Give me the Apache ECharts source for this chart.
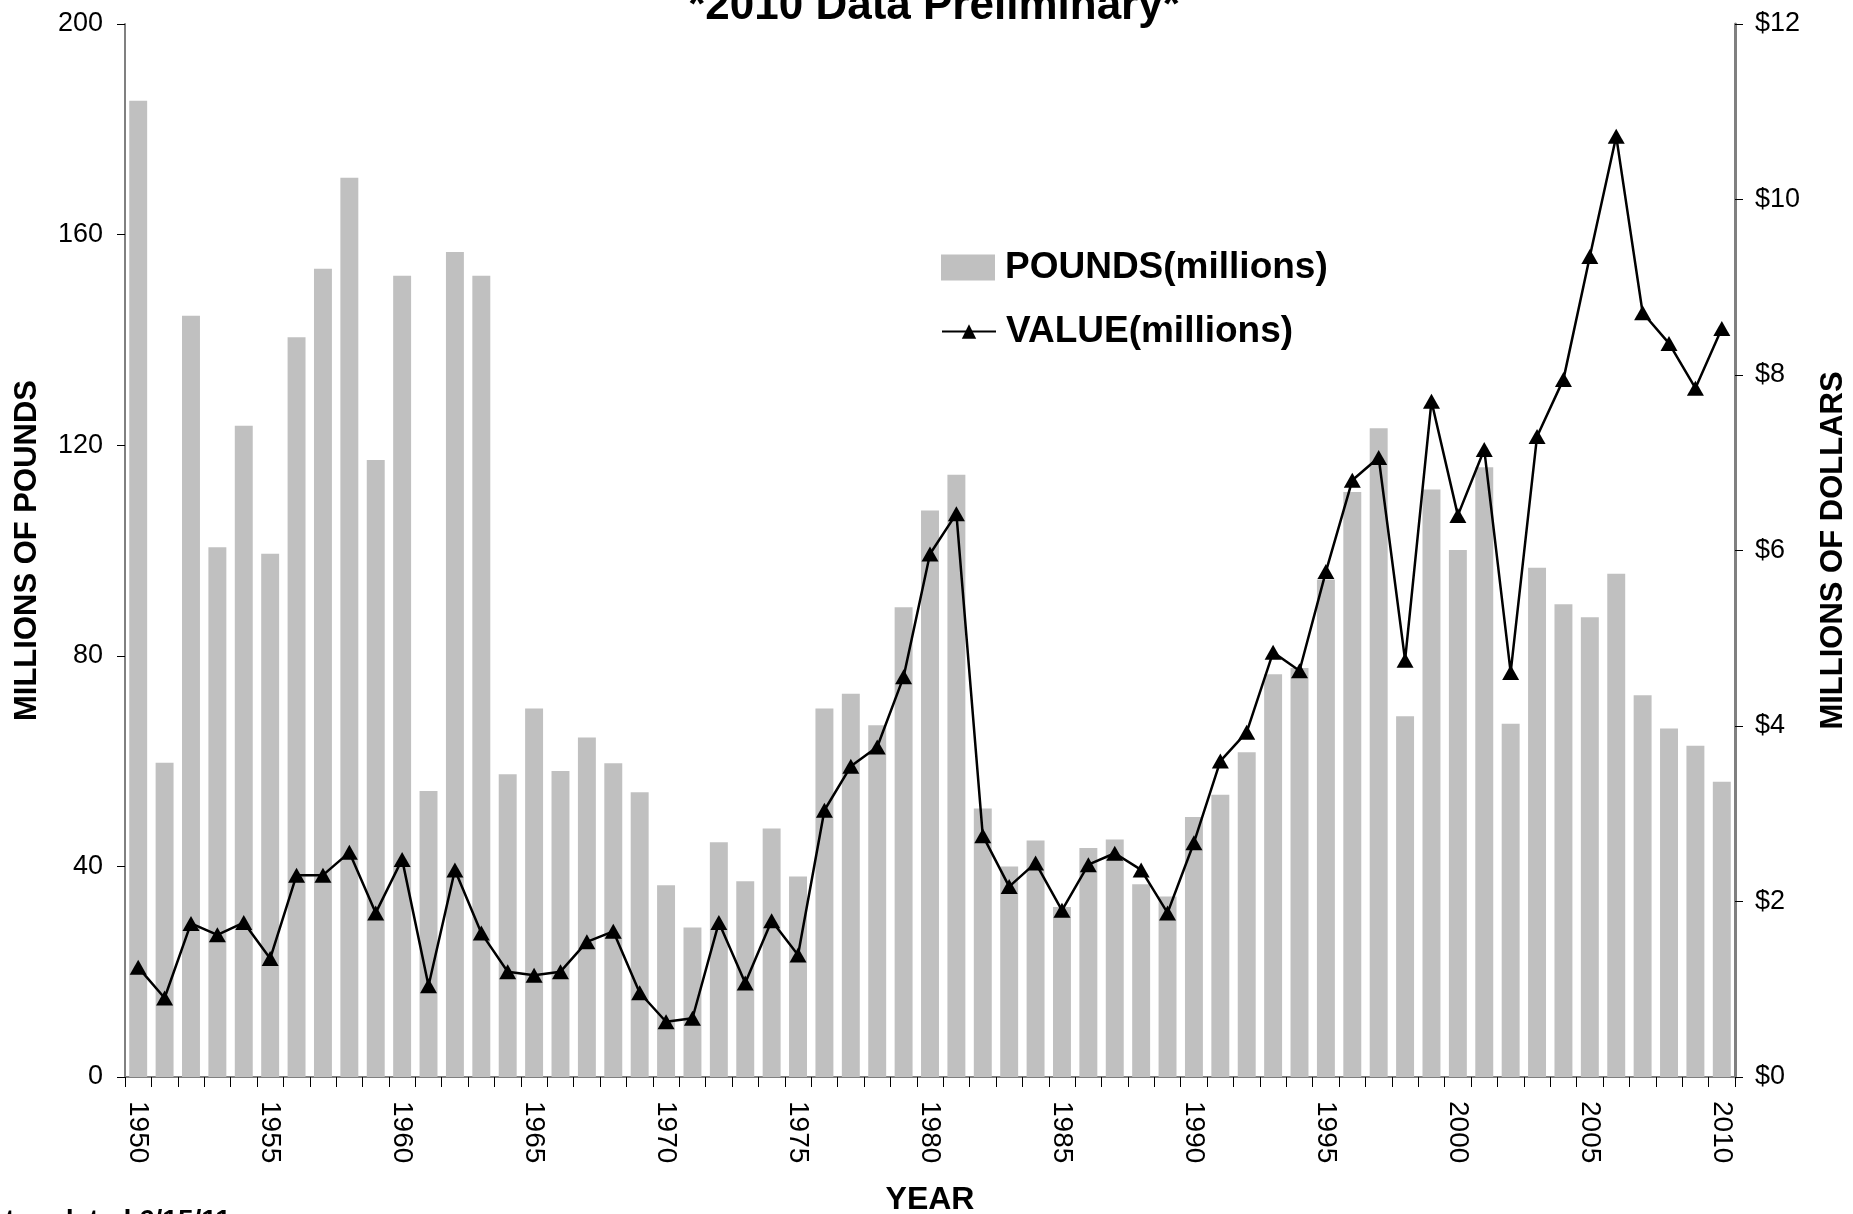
<!DOCTYPE html>
<html>
<head>
<meta charset="utf-8">
<script src="https://cdn.jsdelivr.net/npm/echarts@6/dist/echarts.min.js"></script>
<style>
html,body{margin:0;padding:0;background:#fff;}
#chart{width:1853px;height:1214px;}
</style>
</head>
<body>
<div id="chart"></div>
<script>
var years = [];
for (var y = 1950; y <= 2010; y++) years.push(String(y));

var pounds = [185.4, 59.7, 144.6, 100.6, 123.7, 99.4, 140.5, 153.5, 170.8, 117.2,
  152.2, 54.3, 156.7, 152.2, 57.5, 70.0, 58.1, 64.5, 59.6, 54.1,
  36.4, 28.4, 44.6, 37.2, 47.2, 38.1, 70.0, 72.8, 66.8, 89.2,
  107.6, 114.4, 51.0, 40.0, 44.9, 32.3, 43.5, 45.1, 36.6, 34.3,
  49.4, 53.6, 61.7, 76.5, 77.7, 94.5, 111.1, 123.2, 68.5, 111.6,
  100.1, 115.8, 67.1, 96.7, 89.8, 87.3, 95.6, 72.5, 66.2, 62.9,
  56.1];

var valueM = [1.25, 0.90, 1.75, 1.62, 1.76, 1.35, 2.30, 2.30, 2.56, 1.87,
  2.48, 1.04, 2.36, 1.64, 1.20, 1.16, 1.20, 1.54, 1.66, 0.96,
  0.63, 0.67, 1.76, 1.07, 1.78, 1.39, 3.04, 3.54, 3.76, 4.56,
  5.96, 6.42, 2.75, 2.17, 2.44, 1.90, 2.42, 2.55, 2.36, 1.87,
  2.67, 3.60, 3.93, 4.84, 4.63, 5.76, 6.80, 7.06, 4.75, 7.70,
  6.40, 7.15, 4.61, 7.30, 7.95, 9.35, 10.72, 8.71, 8.36, 7.85,
  8.53];

var FONT = "'Liberation Sans', Arial, sans-serif";
var chart = echarts.init(document.getElementById('chart'));

chart.setOption({
  backgroundColor: '#ffffff',
  animation: false,
  textStyle: {fontFamily: FONT},
  grid: {left: 125, right: 118, top: 24, bottom: 137, containLabel: false, outerBoundsMode: 'none'},
  legend: [
    {
      data: [{name: 'POUNDS(millions)', icon: 'rect'}],
      orient: 'vertical', left: 941, top: 249, padding: 0,
      itemWidth: 54, itemHeight: 26,
      textStyle: {fontFamily: FONT, fontSize: 37, fontWeight: 'bold', color: '#000', padding: [0,0,0,5]}
    },
    {
      data: ['VALUE(millions)'],
      orient: 'vertical', left: 941, top: 313, padding: 0,
      itemWidth: 54, itemHeight: 18,
      textStyle: {fontFamily: FONT, fontSize: 37, fontWeight: 'bold', color: '#000', padding: [0,0,0,5]}
    }
  ],
  xAxis: {
    type: 'category',
    data: years,
    boundaryGap: true,
    name: 'YEAR',
    nameLocation: 'middle',
    nameGap: 107,
    nameTextStyle: {fontFamily: FONT, fontSize: 32, fontWeight: 'bold', color: '#000', verticalAlign: 'top'},
    axisLine: {lineStyle: {color: '#808080', width: 2}},
    axisTick: {show: true, interval: 0, length: 10, lineStyle: {color: '#000', width: 1}},
    axisLabel: {interval: 4, rotate: -90, margin: 24, fontSize: 28, color: '#000', fontFamily: FONT}
  },
  yAxis: [
    {
      type: 'value', min: 0, max: 200, interval: 40,
      name: 'MILLIONS OF POUNDS',
      nameLocation: 'middle', nameGap: 82,
      nameTextStyle: {fontFamily: FONT, fontSize: 31, fontWeight: 'bold', color: '#000'},
      axisLine: {show: true, lineStyle: {color: '#808080', width: 2}},
      axisTick: {show: true, length: 8, lineStyle: {color: '#000', width: 1}},
      axisLabel: {margin: 22, fontSize: 27, color: '#000', fontFamily: FONT},
      splitLine: {show: false}
    },
    {
      type: 'value', min: 0, max: 12, interval: 2,
      position: 'right',
      name: 'MILLIONS OF DOLLARS',
      nameLocation: 'middle', nameGap: 83,
      nameTextStyle: {fontFamily: FONT, fontSize: 31, fontWeight: 'bold', color: '#000'},
      axisLine: {show: true, lineStyle: {color: '#808080', width: 3}},
      axisTick: {show: true, length: 8, lineStyle: {color: '#000', width: 1}},
      axisLabel: {margin: 20, fontSize: 27, color: '#000', fontFamily: FONT,
        formatter: function (v) { return '$' + v; }},
      splitLine: {show: false}
    }
  ],
  series: [
    {
      name: 'POUNDS(millions)',
      type: 'bar',
      data: pounds,
      yAxisIndex: 0,
      barWidth: '68%',
      itemStyle: {color: '#c0c0c0'}
    },
    {
      name: 'VALUE(millions)',
      type: 'line',
      data: valueM,
      yAxisIndex: 1,
      symbol: 'triangle',
      symbolSize: [17, 15],
      lineStyle: {color: '#000', width: 2.5},
      itemStyle: {color: '#000'}
    }
  ],
  graphic: [
    {
      type: 'text', x: 934, y: 7,
      style: {text: '*2010 Data Preliminary*', fontFamily: FONT, fontSize: 44, fontWeight: 'bold',
        fill: '#000', align: 'center', verticalAlign: 'middle'}
    },
    {
      type: 'text', x: -43, y: 1207,
      style: {text: 'Last updated 6/15/11', fontFamily: FONT, fontSize: 28, fontWeight: 'bold',
        fill: '#000', align: 'left', verticalAlign: 'top'}
    }
  ]
});
</script>
</body>
</html>
